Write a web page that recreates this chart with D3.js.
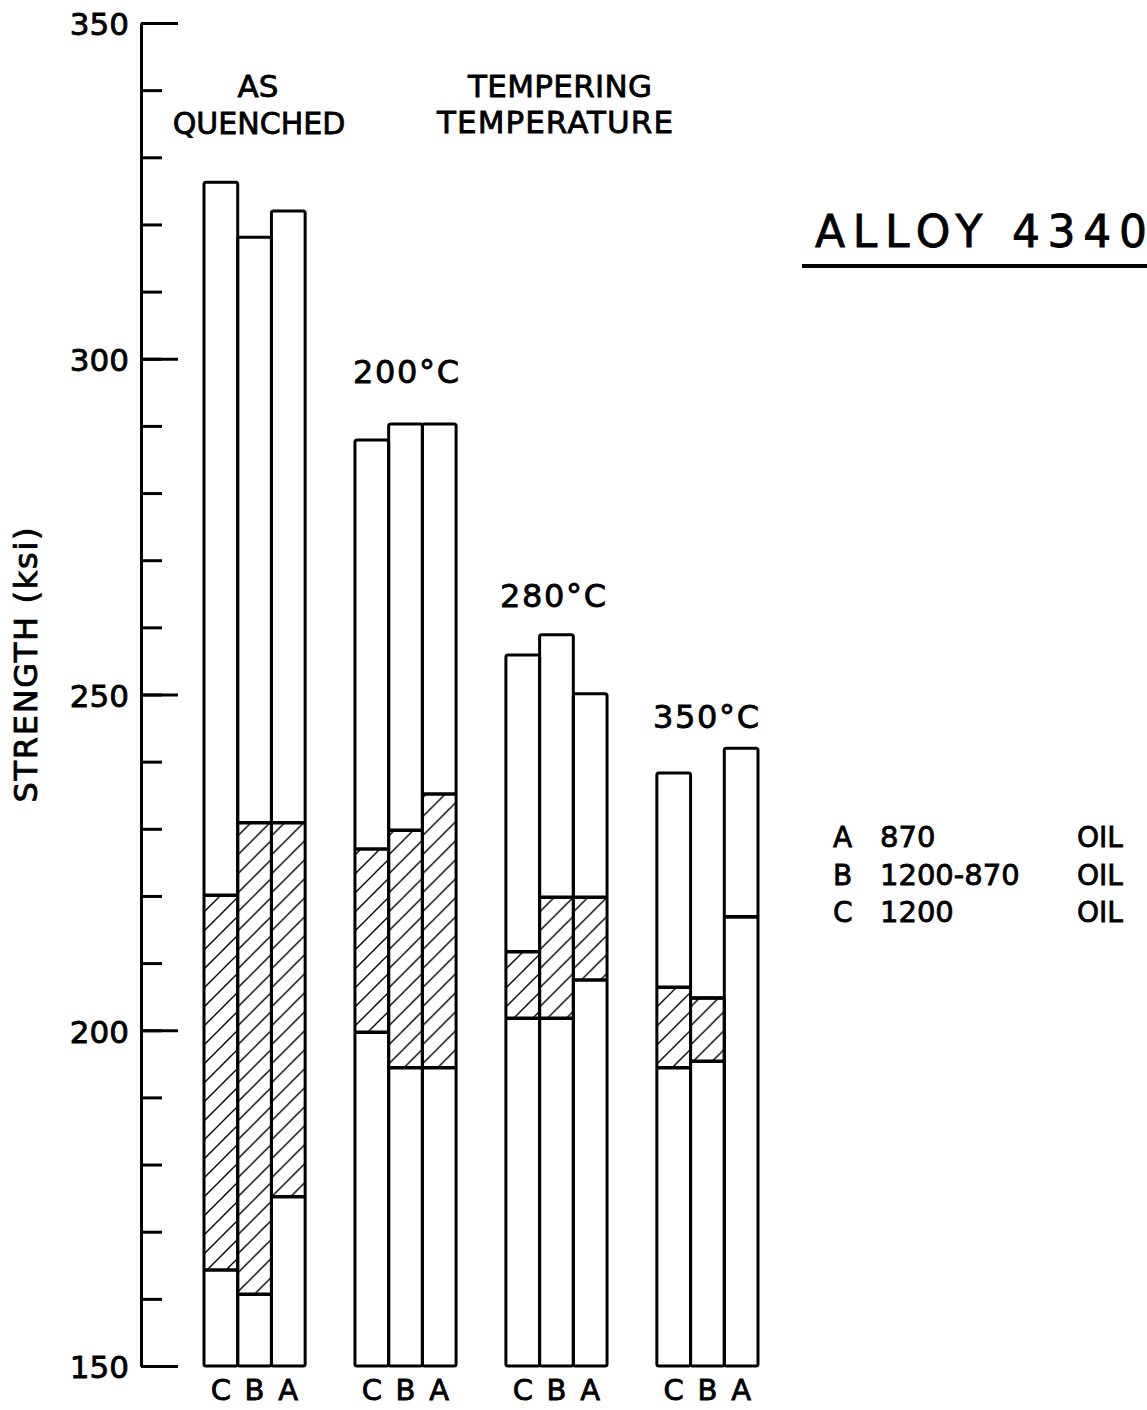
<!DOCTYPE html>
<meta charset="utf-8">
<style>
body { margin:0; background:#fff; }
svg text { font-family:"DejaVu Sans", sans-serif; fill:#000; stroke:#000; stroke-width:0.8; }
.bar-outline { fill:none; stroke:#000; stroke-width:3; stroke-linejoin:round; }
.split { stroke:#000; stroke-width:3.5; }
.axis path, .axis line { stroke:#000; stroke-width:3; }
</style>
<body>
<script src="https://cdn.jsdelivr.net/npm/d3@7"></script>
<script>

var width = 1147,
    height = 1410;

// groups along x, bars within each group
var groups = ["AS QUENCHED", "200°C", "280°C", "350°C"];
var conditions = ["C", "B", "A"];

// top of each bar (ksi), per group, in C,B,A order
var barTop = [
  [326.3, 318.1, 322.0],
  [287.9, 290.3, 290.3],
  [255.9, 258.9, 250.1],
  [238.3, 204.8, 242.0]
];
// hatched band upper edge
var hatchHigh = [
  [220.1, 230.9, 230.9],
  [227.0, 229.8, 235.2],
  [211.7, 219.8, 219.8],
  [206.4, 204.8, 216.9]
];
// hatched band lower edge
var hatchLow = [
  [164.3, 160.7, 175.2],
  [199.7, 194.4, 194.4],
  [201.8, 201.8, 207.5],
  [194.4, 195.4, 216.9]
];

var majorTicks = [150, 200, 250, 300, 350];
var minorTicks = d3.range(150, 351, 10);

var legendKeys = ["A", "B", "C"];
var legendTemps = ["870", "1200-870", "1200"];
var legendMedia = ["OIL", "OIL", "OIL"];

var svg = d3.select("body").append("svg")
    .attr("width", width)
    .attr("height", height);

var defs = svg.append("defs");
defs.append("pattern")
    .attr("id", "hatch")
    .attr("patternUnits", "userSpaceOnUse")
    .attr("width", 19)
    .attr("height", 19)
  .append("path")
    .attr("d", "M-1,1 L1,-1 M0,19 L19,0 M18,20 L20,18")
    .attr("stroke", "#000")
    .attr("stroke-width", 1.4);

var y = d3.scaleLinear()
    .domain([150, 350])
    .range([1366, 23]);

var xAxisPos = 141;

var x0 = d3.scaleBand()
    .domain(groups)
    .range([204, 758])
    .paddingInner(0.33)
    .paddingOuter(0);

var x1 = d3.scaleBand()
    .domain(conditions)
    .range([0, x0.bandwidth()]);

// axis: minor ticks then major ticks with labels, both pointing right
svg.append("g")
    .attr("class", "axis")
    .attr("transform", "translate(" + xAxisPos + ",0)")
    .call(d3.axisLeft(y).tickValues(minorTicks).tickSizeInner(-21).tickSizeOuter(0).tickFormat(""));

var major = svg.append("g")
    .attr("class", "axis")
    .attr("transform", "translate(" + xAxisPos + ",0)")
    .call(d3.axisLeft(y).tickValues(majorTicks).tickSizeInner(-37).tickSizeOuter(0).tickPadding(12));
major.selectAll("text")
    .style("font-size", "31px")
    .attr("dy", "0.38em");

svg.append("text")
    .attr("transform", "translate(37," + 665 + ") rotate(-90)")
    .attr("text-anchor", "middle")
    .attr("textLength", 275)
    .attr("lengthAdjust", "spacing")
    .style("font-size", "32px")
    .text("STRENGTH (ksi)");

// bars
var bars = [];
groups.forEach(function(g, gi) {
  conditions.forEach(function(c, ci) {
    bars.push({group: g, cond: c, top: barTop[gi][ci], hi: hatchHigh[gi][ci], lo: hatchLow[gi][ci]});
  });
});

var barG = svg.append("g");
var bar = barG.selectAll(".bar")
    .data(bars)
    .enter().append("g")
    .attr("class", "bar")
    .attr("transform", function(d) { return "translate(" + (x0(d.group) + x1(d.cond)) + ",0)"; });

bar.append("rect")
    .attr("x", 0)
    .attr("width", x1.bandwidth())
    .attr("y", function(d) { return y(d.hi); })
    .attr("height", function(d) { return y(d.lo) - y(d.hi); })
    .attr("fill", "url(#hatch)");

bar.append("line")
    .attr("class", "split")
    .attr("x1", 0).attr("x2", x1.bandwidth())
    .attr("y1", function(d) { return y(d.hi); })
    .attr("y2", function(d) { return y(d.hi); });

bar.append("line")
    .attr("class", "split")
    .attr("x1", 0).attr("x2", x1.bandwidth())
    .attr("y1", function(d) { return y(d.lo); })
    .attr("y2", function(d) { return y(d.lo); });

bar.append("rect")
    .attr("class", "bar-outline")
    .attr("x", 0)
    .attr("width", x1.bandwidth())
    .attr("y", function(d) { return y(d.top); })
    .attr("height", function(d) { return y(150) - y(d.top); })
    .attr("rx", 2);

bar.append("text")
    .attr("x", x1.bandwidth() / 2)
    .attr("y", 1400)
    .attr("text-anchor", "middle")
    .style("font-size", "29px")
    .text(function(d) { return d.cond; });

// group headings
svg.append("text")
    .attr("x", 258).attr("y", 97)
    .attr("text-anchor", "middle")
    .style("font-size", "31px")
    .text("AS");
svg.append("text")
    .attr("x", 259).attr("y", 134)
    .attr("text-anchor", "middle")
    .style("font-size", "30px")
    .text("QUENCHED");
svg.append("text")
    .attr("x", 560).attr("y", 97)
    .attr("text-anchor", "middle")
    .attr("textLength", 184)
    .style("font-size", "31px")
    .text("TEMPERING");
svg.append("text")
    .attr("x", 555).attr("y", 133)
    .attr("text-anchor", "middle")
    .attr("textLength", 236)
    .style("font-size", "31px")
    .text("TEMPERATURE");

var tempPos = [null, [353, 383], [500, 607], [653, 728]];
groups.forEach(function(g, gi) {
  if (!tempPos[gi]) return;
  svg.append("text")
      .attr("x", tempPos[gi][0]).attr("y", tempPos[gi][1])
      .attr("textLength", 106)
      .style("font-size", "32px")
      .text(g);
});

// title
svg.append("text")
    .attr("x", 815).attr("y", 247)
    .attr("textLength", 332)
    .attr("lengthAdjust", "spacing")
    .style("font-size", "44px")
    .text("ALLOY 4340");
svg.append("line")
    .attr("x1", 802).attr("x2", 1147)
    .attr("y1", 266).attr("y2", 266)
    .attr("stroke", "#000").attr("stroke-width", 4);

// legend
var leg = svg.append("g").selectAll("g")
    .data(legendKeys)
    .enter().append("g")
    .attr("transform", function(d, i) { return "translate(0," + (847 + i * 37.5) + ")"; });
leg.append("text").attr("x", 833).style("font-size", "28px").text(function(d) { return d; });
leg.append("text").attr("x", 880).style("font-size", "29px")
    .text(function(d, i) { return legendTemps[i]; });
leg.append("text").attr("x", 1077).style("font-size", "28px").text(function(d, i) { return legendMedia[i]; });

</script>
</body>
